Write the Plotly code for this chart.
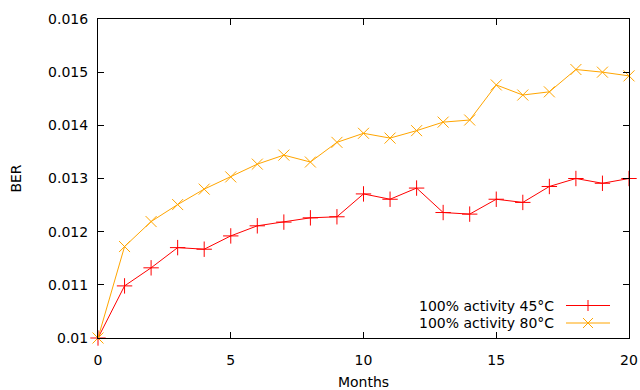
import plotly.graph_objects as go

# Monthly BER measurements for two activity/temperature conditions
months = list(range(0, 21))
ber_45c = [0.01000, 0.01098, 0.01132, 0.01170, 0.01167, 0.01192, 0.01211,
           0.01218, 0.01226, 0.01228, 0.01271, 0.01261, 0.01282, 0.01236,
           0.01233, 0.01261, 0.01255, 0.01285, 0.01300, 0.01291, 0.01300]
ber_80c = [0.01000, 0.01172, 0.01219, 0.01251, 0.01280, 0.01303, 0.01327,
           0.01344, 0.01331, 0.01368, 0.01385, 0.01376, 0.01390, 0.01406,
           0.01410, 0.01476, 0.01457, 0.01463, 0.01505, 0.01500, 0.01493]

series_names = ["100% activity 45°C", "100% activity 80°C"]
series_colors = ["#ff0000", "#ffa500"]

x_ticks = [0, 5, 10, 15, 20]
y_ticks = [0.010, 0.011, 0.012, 0.013, 0.014, 0.015, 0.016]
y_ticktext = ["0.01", "0.011", "0.012", "0.013", "0.014", "0.015", "0.016"]

W, H = 640, 390
ML, MR, MT, MB = 98, 11, 19, 52
FONT = "DejaVu Sans"

fig = go.Figure()
fig.add_trace(go.Scatter(
    x=months, y=ber_45c, mode="lines+markers", name=series_names[0],
    line=dict(color=series_colors[0], width=1), cliponaxis=False,
    marker=dict(symbol="cross-thin-open", size=11,
                line=dict(color=series_colors[0], width=1)),
    showlegend=False))
fig.add_trace(go.Scatter(
    x=months, y=ber_80c, mode="lines+markers", name=series_names[1],
    line=dict(color=series_colors[1], width=1), cliponaxis=False,
    marker=dict(symbol="x-thin-open", size=11,
                line=dict(color=series_colors[1], width=1)),
    showlegend=False))

# Key drawn at the lower right: text right-aligned, sample line to its right
pw, ph = W - ML - MR, H - MT - MB
def px_x(px):
    return (px - ML) / pw
def px_y(py):
    return 1 - (py - MT) / ph

key_rows = [305.5, 323]
shapes = []
annotations = []
for i, (name, col) in enumerate(zip(series_names, series_colors)):
    yy = key_rows[i]
    shapes.append(dict(type="line", xref="paper", yref="paper",
                       x0=px_x(566), x1=px_x(610), y0=px_y(yy), y1=px_y(yy),
                       line=dict(color=col, width=1)))
    cx = 588
    if i == 0:
        shapes.append(dict(type="line", xref="paper", yref="paper",
                           x0=px_x(cx - 5.5), x1=px_x(cx + 5.5), y0=px_y(yy), y1=px_y(yy),
                           line=dict(color=col, width=1)))
        shapes.append(dict(type="line", xref="paper", yref="paper",
                           x0=px_x(cx), x1=px_x(cx), y0=px_y(yy - 5.5), y1=px_y(yy + 5.5),
                           line=dict(color=col, width=1)))
    else:
        shapes.append(dict(type="line", xref="paper", yref="paper",
                           x0=px_x(cx - 5), x1=px_x(cx + 5), y0=px_y(yy - 5), y1=px_y(yy + 5),
                           line=dict(color=col, width=1)))
        shapes.append(dict(type="line", xref="paper", yref="paper",
                           x0=px_x(cx - 5), x1=px_x(cx + 5), y0=px_y(yy + 5), y1=px_y(yy - 5),
                           line=dict(color=col, width=1)))
    annotations.append(dict(text=name, xref="paper", yref="paper",
                            x=px_x(556), y=px_y(yy), xanchor="right", yanchor="middle",
                            showarrow=False, font=dict(family=FONT, size=14, color="#000")))

axis_common = dict(showline=True, linecolor="black", linewidth=1, mirror="ticks",
                   ticks="inside", ticklen=6, tickcolor="black", showgrid=False,
                   zeroline=False, automargin=False,
                   tickfont=dict(family=FONT, size=14, color="#000"))

fig.update_layout(
    width=W, height=H, margin=dict(l=ML, r=MR, t=MT, b=MB),
    paper_bgcolor="white", plot_bgcolor="white",
    xaxis=dict(range=[0, 20], tickvals=x_ticks, ticklabelstandoff=9,
               title=dict(text="Months", font=dict(family=FONT, size=14, color="#000"),
                          standoff=12),
               **axis_common),
    yaxis=dict(range=[0.010, 0.016], tickvals=y_ticks, ticktext=y_ticktext,
               ticklabelstandoff=6,
               title=dict(text="BER", font=dict(family=FONT, size=14, color="#000"),
                          standoff=23),
               **axis_common),
    shapes=shapes, annotations=annotations,
)

fig.write_html("out.html")
